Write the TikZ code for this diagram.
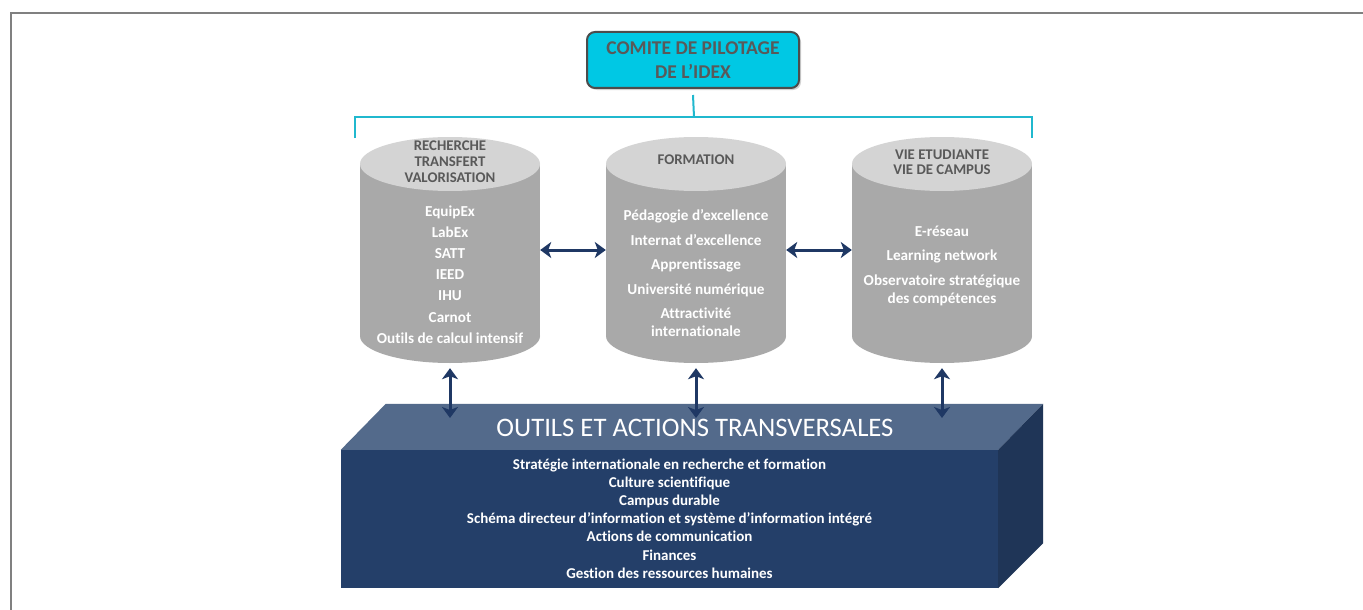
\documentclass[tikz,border=0pt]{standalone}
\usepackage{fontspec}
\setmainfont[Ligatures={NoCommon}]{Carlito}
\usetikzlibrary{arrows.meta,calc,shadows}
\definecolor{navy}{HTML}{1F3864}
\definecolor{cylbody}{HTML}{A9A9A9}
\definecolor{cyltop}{HTML}{D4D4D4}
\definecolor{titlegray}{HTML}{595959}
\definecolor{cyanbox}{HTML}{00C8E4}
\definecolor{bracecol}{HTML}{20B8CE}
\definecolor{boxtop}{HTML}{536A8B}
\definecolor{boxfront}{HTML}{243F69}
\definecolor{boxside}{HTML}{1F3557}
\definecolor{framegray}{HTML}{808080}
\begin{document}
\begin{tikzpicture}[x=1pt,y=-1pt,
  cylframe/.style={minimum width=180pt,minimum height=226pt,inner sep=0pt},
  cyltitle/.style={font=\bfseries\fontsize{14.8}{16}\selectfont,text=titlegray,align=center,inner sep=0pt},
  cylitem/.style={font=\bfseries\fontsize{15.2}{21.2}\selectfont,text=white,align=center,inner sep=0pt},
  boxitem/.style={font=\bfseries\fontsize{15}{18.2}\selectfont,text=white,align=center,inner sep=0pt},
  link/.style={draw=navy,line width=3pt,{Stealth[length=11pt,width=16pt,inset=3pt]}-{Stealth[length=11pt,width=16pt,inset=3pt]}},
  bracestyle/.style={draw=bracecol,line width=2pt},
  pics/cylpic/.style={code={
    \fill[cylbody] (-90,-86) rectangle (90,86);
    \fill[cylbody] (0,86) ellipse [x radius=90pt, y radius=27pt];
    \fill[cyltop] (0,-86) ellipse [x radius=90pt, y radius=27pt];
  }}
]
\useasboundingbox (0,0) rectangle (1363,610);
\fill[white] (0,0) rectangle (1363,610);
\draw[framegray,line width=2pt] (1363,13) -- (11,13) -- (11,610);

% committee
\node[fill=cyanbox,draw=gray!60!black,line width=2pt,rounded corners=8pt,
      minimum width=212pt,minimum height=56pt,
      drop shadow={opacity=0.35,shadow xshift=2pt,shadow yshift=-2pt},
      font=\bfseries\fontsize{19.5}{24}\selectfont,text=titlegray,align=center,inner sep=0pt]
      (commit) at (693,60) {COMITE DE PILOTAGE\\DE L’IDEX};
\coordinate (bl) at (355,138);
\coordinate (br) at (1032,138);
\coordinate (bc) at (694,117);
\draw[bracestyle] (bl) -- (bl |- bc) -- (br |- bc) -- (br);
\draw[bracestyle] ([yshift=-6pt]commit.south) -- (bc);

% cylinders
\pic at (450,250) {cylpic};
\pic at (696,250) {cylpic};
\pic at (942,250) {cylpic};
\node[cylframe] (cylL) at (450,250) {};
\node[cylframe] (cylM) at (696,250) {};
\node[cylframe] (cylR) at (942,250) {};

\node[cyltitle] (tL) at (450,162) {RECHERCHE\\TRANSFERT\\VALORISATION};
\node[cyltitle] (tM) at (696,160) {FORMATION};
\node[cyltitle,font=\bfseries\fontsize{14.8}{15}\selectfont] (tR) at (942,162.5) {VIE ETUDIANTE\\VIE DE CAMPUS};

\node[cylitem] (iL) at (450,274.5) {EquipEx\\LabEx\\SATT\\IEED\\IHU\\Carnot\\Outils de calcul intensif};
\node[cylitem,font=\bfseries\fontsize{15.2}{24.5}\selectfont] (iM) at (696,273.5)
  {Pédagogie d’excellence\\Internat d’excellence\\Apprentissage\\Université numérique\\Attractivité\\[-6.5pt]internationale};
\node[cylitem,font=\bfseries\fontsize{15.2}{24.5}\selectfont] (iR) at (942,265.5)
  {E-réseau\\Learning network\\Observatoire stratégique\\[-6.5pt]des compétences};

% box
\node[fill=boxfront,minimum width=657pt,minimum height=138pt,inner sep=0pt] (front) at (669.5,519) {};
\fill[boxtop] (front.north west) -- (front.north east) -- ++(45,-46) -- ($(front.north west)+(45,-46)$) -- cycle;
\fill[boxside] (front.north east) -- ++(45,-46) -- ($(front.south east)+(45,-45)$) -- (front.south east) -- cycle;
\node[font=\fontsize{26.7}{30}\selectfont,text=white,inner sep=0pt] (btitle) at (695,428) {OUTILS ET ACTIONS TRANSVERSALES};
\node[boxitem] (bitems) at (669.5,518.5) {Stratégie internationale en recherche et formation\\Culture scientifique\\Campus durable\\Schéma directeur d’information et système d’information intégré\\Actions de communication\\Finances\\Gestion des ressources humaines};

% arrows
\draw[link] (cylL.east) -- (cylM.west);
\draw[link] (cylM.east) -- (cylR.west);
\coordinate (aL) at (450,418);
\coordinate (aM) at (696,418);
\coordinate (aR) at (942,418);
\draw[link] ([yshift=-5pt]cylL.south) -- (aL);
\draw[link] ([yshift=-5pt]cylM.south) -- (aM);
\draw[link] ([yshift=-5pt]cylR.south) -- (aR);
\end{tikzpicture}
\end{document}
